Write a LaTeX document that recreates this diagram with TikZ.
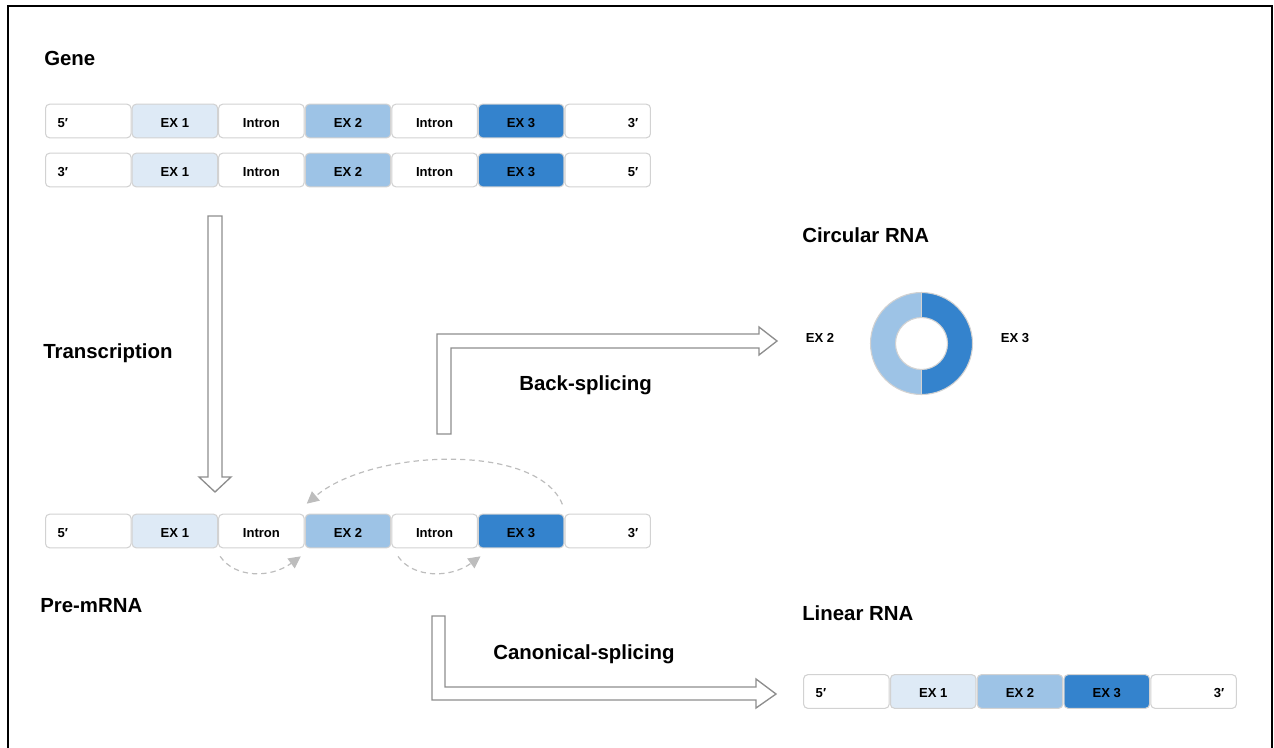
\documentclass[tikz,border=0pt]{standalone}
\usepackage{fontspec}
\setmainfont{Liberation Sans}
\usetikzlibrary{arrows.meta}
\definecolor{exone}{HTML}{DEEAF6}
\definecolor{extwo}{HTML}{9DC3E6}
\definecolor{exthree}{HTML}{3483CD}
\definecolor{segline}{HTML}{D2D2D2}
\definecolor{arrline}{HTML}{8E8E8E}
\definecolor{dashcol}{HTML}{BDBDBD}
\begin{document}
\begin{tikzpicture}[x=0.75pt,y=-0.75pt,
  seg/.style={draw=segline, line width=0.8pt, rounded corners=3pt, fill=white,
    minimum width=64.1pt, minimum height=25.2pt, inner sep=0pt,
    text height=9.6pt, text depth=0pt,
    font=\bfseries\fontsize{9.8}{11}\selectfont},
  exa/.style={seg, fill=exone},
  exb/.style={seg, fill=extwo},
  exc/.style={seg, fill=exthree},
  endl/.style={seg, text width=46pt, align=left},
  endr/.style={seg, text width=46pt, align=right},
  title/.style={anchor=base west, inner sep=0pt, font=\bfseries\fontsize{15.3}{18}\selectfont},
  small/.style={inner sep=0pt, font=\bfseries\fontsize{9.8}{11}\selectfont},
  block/.style={draw=arrline, line width=1pt, fill=white, line join=miter},
  loop/.style={draw=dashcol, line width=0.9pt, dash pattern=on 4pt off 3pt,
    -{Triangle[length=9pt, width=9pt, fill=dashcol]}}
]
\useasboundingbox (0,0) rectangle (1274,747);

% outer frame
\draw[line width=1.5pt] (8,760) -- (8,6) -- (1272,6) -- (1272,760);

% gene: two strands
\node[endl] (ga0) at (88.3,121) {5′};
\node[exa]  (ga1) at (174.9,121) {EX 1};
\node[seg]  (ga2) at (261.4,121) {Intron};
\node[exb]  (ga3) at (348.0,121) {EX 2};
\node[seg]  (ga4) at (434.6,121) {Intron};
\node[exc]  (ga5) at (521.1,121) {EX 3};
\node[endr] (ga6) at (607.7,121) {3′};

\node[endl] (gb0) at (88.3,170) {3′};
\node[exa]  (gb1) at (174.9,170) {EX 1};
\node[seg]  (gb2) at (261.4,170) {Intron};
\node[exb]  (gb3) at (348.0,170) {EX 2};
\node[seg]  (gb4) at (434.6,170) {Intron};
\node[exc]  (gb5) at (521.1,170) {EX 3};
\node[endr] (gb6) at (607.7,170) {5′};

% pre-mRNA
\node[endl] (p0) at (88.3,531) {5′};
\node[exa]  (p1) at (174.9,531) {EX 1};
\node[seg]  (p2) at (261.4,531) {Intron};
\node[exb]  (p3) at (348.0,531) {EX 2};
\node[seg]  (p4) at (434.6,531) {Intron};
\node[exc]  (p5) at (521.1,531) {EX 3};
\node[endr] (p6) at (607.7,531) {3′};

% linear RNA
\node[endl] (l0) at (846.4,691.5) {5′};
\node[exa]  (l1) at (933.2,691.5) {EX 1};
\node[exb]  (l2) at (1020.0,691.5) {EX 2};
\node[exc]  (l3) at (1106.8,691.5) {EX 3};
\node[endr] (l4) at (1193.6,691.5) {3′};

% titles
\node[title] (tgene)  at (44,65.5)  {Gene};
\node[title] (ttrans) at (43,358.5) {Transcription};
\node[title] (tpre)   at (40,612)   {Pre-mRNA};
\node[title] (tback)  at (519,390)  {Back-splicing};
\node[title] (tcanon) at (493,659)  {Canonical-splicing};
\node[title] (tcirc)  at (802,242)  {Circular RNA};
\node[title] (tlin)   at (802,620)  {Linear RNA};

% block arrows
\draw[block] (208,216) -- (222,216) -- (222,477) -- (231,477) -- (215,492)
  -- (199,477) -- (208,477) -- cycle;
\draw[block] (437,434) -- (437,334) -- (759,334) -- (759,327) -- (777,341)
  -- (759,355) -- (759,348) -- (451,348) -- (451,434) -- cycle;
\draw[block] (432,616) -- (445,616) -- (445,687) -- (756,687) -- (756,679)
  -- (776,694) -- (756,708) -- (756,700) -- (432,700) -- cycle;

% splicing loops on the pre-mRNA
\draw[loop] ([xshift=-1.5pt,yshift=7pt]p5.north east)
  .. controls +(-25,-62) and +(65,-55) .. ([xshift=1.5pt,yshift=7.5pt]p3.north west);
\draw[loop] ([xshift=1.5pt,yshift=-6pt]p2.south west)
  .. controls +(15,22) and +(-30,22) .. ([xshift=-3pt,yshift=-6pt]p3.south west);
\draw[loop] ([xshift=5pt,yshift=-6pt]p4.south west)
  .. controls +(15,22) and +(-30,22) .. ([xshift=2pt,yshift=-6pt]p5.south west);

% circular RNA
\coordinate (cc) at (921.5,343.5);
\begin{scope}
  \clip (860,280) rectangle (921.5,410);
  \fill[extwo] (cc) circle[radius=38.25pt];
\end{scope}
\begin{scope}
  \clip (921.5,280) rectangle (985,410);
  \fill[exthree] (cc) circle[radius=38.25pt];
\end{scope}
\fill[white] (cc) circle[radius=19.5pt];
\draw[segline, line width=0.8pt] (cc) circle[radius=38.25pt] (cc) circle[radius=19.5pt];
\draw[segline, line width=0.6pt] (921.5,292.5) -- (921.5,317.5) (921.5,369.5) -- (921.5,394.5);
\node[small] (cex2) at (820,338) {EX 2};
\node[small] (cex3) at (1015,338) {EX 3};
\end{tikzpicture}
\end{document}
